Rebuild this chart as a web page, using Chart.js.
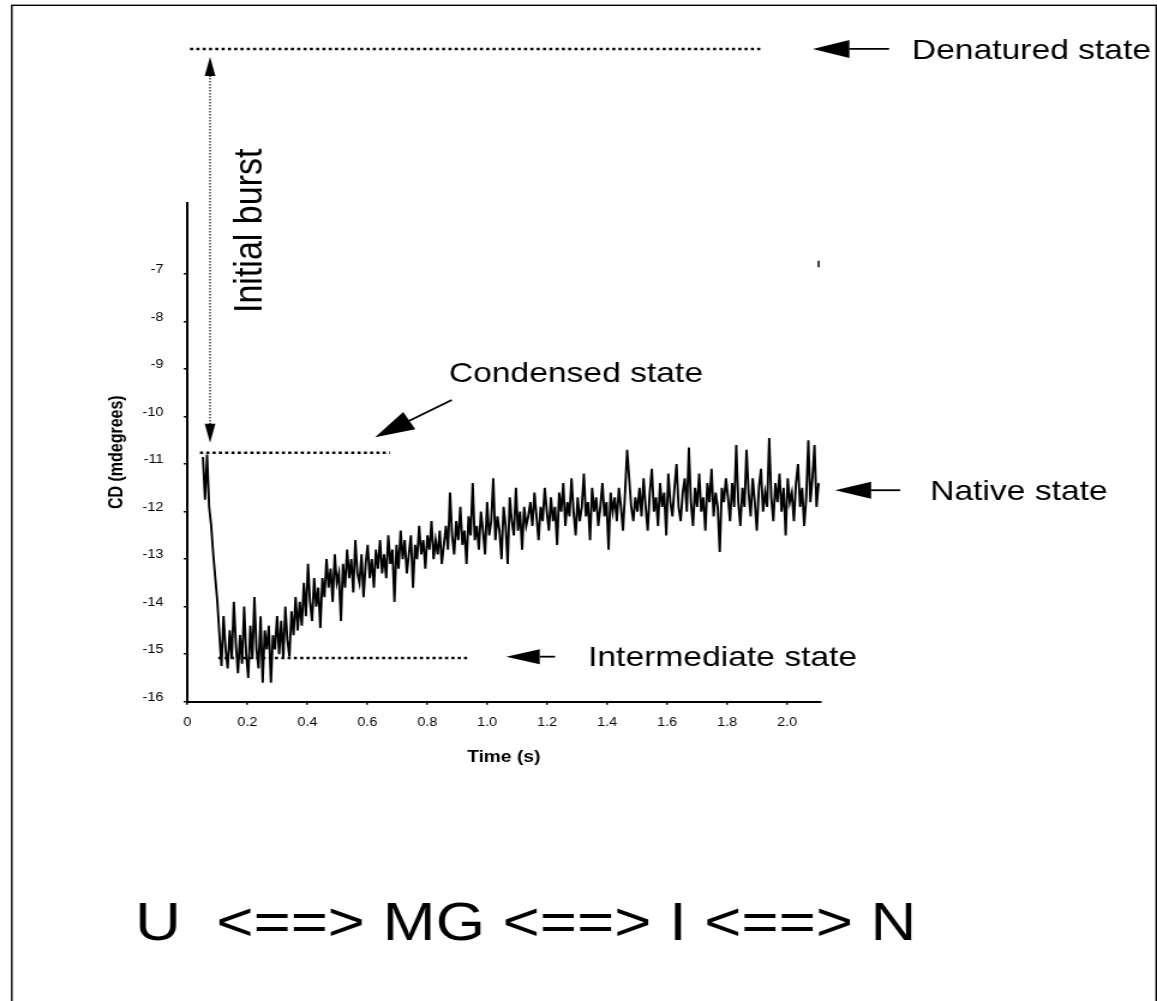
<!DOCTYPE html>
<html>
<head>
  <title>CD refolding kinetics</title>
  <meta charset="utf-8" />
  <style>
    html, body { margin: 0; padding: 0; background: #fff; overflow: hidden; }
    #wrap { width: 1157px; height: 1001px; overflow: hidden; }
    /* the original figure is stretched horizontally by about 1.2 */
    #cdChart { display: block; transform: scaleX(1.2002); transform-origin: 0 0; }
  </style>
</head>
<body>
<div id="wrap"><canvas id="cdChart" width="964" height="1001"></canvas></div>

<script src="https://cdn.jsdelivr.net/npm/chart.js"></script>
<script>
  // sampled trace: first and last sample time (s), values in mdegrees
  const timeStart = 0.052;
  const timeEnd = 2.105;
  const cdValues = [
    -10.85, -11.75, -10.8, -11.9, -12.3, -12.9, -13.4, -13.9, -14.6,
    -15.25, -14.2, -14.9, -15.3, -14.5, -15.1, -13.9, -14.8, -15.4, -14.6,
    -15.2, -14.0, -15.0, -15.5, -14.4, -15.1, -13.8, -14.9, -15.3, -14.2,
    -15.6, -14.5, -14.9,
    -14.4, -15.6, -14.6, -14.9, -14.2, -15.0, -14.3, -15.1, -14.0, -14.7,
    -15.05, -14.1, -14.6, -13.8, -14.5, -13.9, -14.4, -13.5, -14.2, -13.1,
    -13.9, -14.3, -13.4, -14.0, -13.6,
    -14.45, -13.4, -13.8, -13.0, -13.6, -13.2, -13.9, -12.9, -13.5, -13.3,
    -14.3, -13.1, -13.6, -12.8, -13.4, -13.0, -13.7, -12.6, -13.3, -13.5,
    -12.9, -13.8, -13.1, -12.7, -13.4, -13.0, -13.6, -12.8, -13.2,
    -12.6, -13.3, -12.9, -13.4, -12.5, -13.1, -12.8, -13.9, -12.7, -13.2,
    -12.4, -13.0, -12.6, -13.3, -12.9, -12.5, -13.6, -12.7, -13.0, -12.3,
    -12.9, -12.6, -13.2, -12.5, -12.8, -12.2, -13.0, -12.6, -12.9, -12.4,
    -13.1, -12.7,
    -12.3, -12.8, -11.6, -12.5, -12.9, -12.2, -12.6, -11.9, -12.7, -12.4,
    -13.1, -12.1, -12.5, -11.4, -12.6, -12.3, -12.8, -12.0, -12.4, -12.9,
    -11.8, -12.5, -12.2, -11.3, -12.6, -12.1, -12.4, -13.0, -11.9, -12.3,
    -13.1, -11.7, -12.2, -12.5, -11.5, -12.4, -12.0, -12.8, -11.9, -12.3,
    -12.1,
    -11.8, -12.3, -11.6, -12.1, -12.6, -11.9, -12.2, -11.5, -12.0, -12.4,
    -11.7, -12.2, -11.9, -12.7, -11.6, -12.0, -11.4, -12.3, -11.8, -12.1,
    -11.3, -12.0, -12.5, -11.7, -12.2, -11.9, -11.2, -12.1, -11.8, -12.6,
    -11.5, -12.0, -11.7, -12.3, -11.9, -11.4, -12.1, -11.8, -12.8, -11.6,
    -12.0, -11.7, -12.2, -11.5, -11.9, -12.4, -11.6, -10.7, -11.3, -11.9,
    -12.2, -11.7, -12.0,
    -11.5, -12.1, -11.3, -11.9, -12.4, -11.6, -11.1, -12.0, -11.7, -12.3,
    -11.4, -11.9, -11.6, -12.5, -11.2, -11.8, -12.1, -11.5, -11.0, -11.9,
    -12.2, -11.6, -11.3, -12.0, -10.65, -11.8, -12.3, -11.5, -11.9, -11.2,
    -12.0, -11.7, -12.4, -11.4, -11.8, -11.1, -12.1, -11.6, -11.9, -12.85,
    -11.5, -11.8, -11.3,
    -11.7, -12.2, -11.4, -11.9, -10.6, -11.8, -12.3, -11.5, -11.9, -10.7,
    -11.6, -12.1, -11.3, -11.8, -12.4, -11.5, -11.1, -12.0, -11.6, -11.9,
    -10.45, -11.7, -12.2, -11.4, -11.8, -11.2, -12.0, -11.5, -12.5, -11.3,
    -11.8, -11.6, -12.2, -11.4, -11.0, -11.9, -11.5, -12.3, -11.7, -10.5,
    -11.8, -11.3, -10.6, -11.9, -11.4
  ];

  // stray mark at the right end of the plot
  const strayMark = [-6.72, -6.86];

  const xTickValues = [0, 0.2, 0.4, 0.6, 0.8, 1.0, 1.2, 1.4, 1.6, 1.8, 2.0];
  const xTickLabels = ['0', '0.2', '0.4', '0.6', '0.8', '1.0', '1.2', '1.4', '1.6', '1.8', '2.0'];
  const yTickValues = [-16, -15, -14, -13, -12, -11, -10, -9, -8, -7];
  const yTickLabels = ['-16', '-15', '-14', '-13', '-12', '-11', '-10', '-9', '-8', '-7'];

  // CD levels of the folding states
  const stateNames = ['Denatured state', 'Condensed state', 'Intermediate state', 'Native state'];
  const stateLevels = [-2.265, -10.76, -15.08, -11.55];

  const FONT = '"Liberation Sans", Arial, Helvetica, sans-serif';

  const step = (timeEnd - timeStart) / (cdValues.length - 1);
  const tracePoints = cdValues.map((v, i) => ({ x: timeStart + i * step, y: v }));
  const strayPoints = strayMark.map(v => ({ x: timeEnd, y: v }));

  function drawArrow(ctx, fromX, fromY, tipX, tipY, headLen, headHalf) {
    const a = Math.atan2(tipY - fromY, tipX - fromX);
    const bx = tipX - headLen * Math.cos(a);
    const by = tipY - headLen * Math.sin(a);
    ctx.beginPath();
    ctx.moveTo(fromX, fromY);
    ctx.lineTo(bx, by);
    ctx.stroke();
    ctx.beginPath();
    ctx.moveTo(tipX, tipY);
    ctx.lineTo(bx + headHalf * Math.sin(a), by - headHalf * Math.cos(a));
    ctx.lineTo(bx - headHalf * Math.sin(a), by + headHalf * Math.cos(a));
    ctx.closePath();
    ctx.fill();
  }

  function hLine(ctx, x1, x2, py) {
    ctx.beginPath();
    ctx.moveTo(x1, py);
    ctx.lineTo(x2, py);
    ctx.stroke();
  }

  const annotations = {
    id: 'annotations',
    afterDraw(chart) {
      const { ctx, scales: { x, y } } = chart;
      const lv = stateLevels.map(v => y.getPixelForValue(v));
      ctx.save();
      ctx.fillStyle = '#000';
      ctx.strokeStyle = '#000';

      // frame round the figure
      ctx.lineWidth = 1.4;
      ctx.strokeRect(9.8, 5.3, 953.6, 1020);

      // dotted level lines
      ctx.lineWidth = 2.4;
      ctx.setLineDash([2.6, 2.65]);
      hLine(ctx, x.getPixelForValue(0.009), x.getPixelForValue(1.915), lv[0]);
      hLine(ctx, x.getPixelForValue(0.042), x.getPixelForValue(0.675), lv[1]);
      hLine(ctx, x.getPixelForValue(0.103), x.getPixelForValue(0.942), lv[2]);

      // initial burst double arrow
      ctx.lineWidth = 1.1;
      ctx.setLineDash([1.5, 1.5]);
      ctx.beginPath();
      ctx.moveTo(175, lv[0] + 26);
      ctx.lineTo(175, lv[1] - 29);
      ctx.stroke();
      ctx.setLineDash([]);
      drawArrow(ctx, 175, lv[0] + 28, 175, lv[0] + 8, 19, 4.5);
      drawArrow(ctx, 175, lv[1] - 30, 175, lv[1] - 10, 19, 4.5);

      // pointer arrows
      ctx.lineWidth = 1.8;
      drawArrow(ctx, 740.8, lv[0], 677.2, lv[0], 30.5, 9);
      drawArrow(ctx, 376.4, 400, 312.5, 437.3, 33, 10);
      drawArrow(ctx, 462.5, lv[2] - 1.3, 421.7, lv[2] - 1.3, 28, 7.5);
      drawArrow(ctx, 750, lv[3], 695.8, lv[3], 30, 8.5);

      // labels
      ctx.font = '28px ' + FONT;
      ctx.textAlign = 'left';
      ctx.textBaseline = 'alphabetic';
      ctx.fillText(stateNames[0], 759.8, lv[0] + 10);
      ctx.fillText(stateNames[1], 374, 382);
      ctx.fillText(stateNames[2], 490, lv[2] + 8);
      ctx.fillText(stateNames[3], 775, lv[3] + 10);

      ctx.save();
      ctx.translate(217.5, 313);
      ctx.rotate(-Math.PI / 2);
      ctx.font = '34px ' + FONT;
      ctx.fillText('Initial burst', 0, 0);
      ctx.restore();

      ctx.font = '53px ' + FONT;
      ctx.fillText('U  <==> MG <==> I <==> N', 112.5, 940);
      ctx.restore();
    }
  };

  new Chart(document.getElementById('cdChart'), {
    type: 'line',
    data: {
      datasets: [{
        label: 'CD',
        data: tracePoints,
        borderColor: '#000',
        borderWidth: 1.9,
        pointRadius: 0,
        tension: 0,
        fill: false
      },
      {
        label: 'mark',
        data: strayPoints,
        borderColor: '#000',
        borderWidth: 1.5,
        pointRadius: 0,
        fill: false
      }]
    },
    options: {
      responsive: false,
      devicePixelRatio: 1,
      animation: false,
      events: [],
      layout: {
        padding: { left: 76.1, right: 280.7, top: 202.7, bottom: 219.3 }
      },
      plugins: {
        legend: { display: false },
        tooltip: { enabled: false }
      },
      scales: {
        x: {
          type: 'linear',
          min: 0,
          max: 2.11,
          afterFit: s => { s.height = 80; },
          afterBuildTicks: s => { s.ticks = xTickValues.map(v => ({ value: v })); },
          ticks: {
            autoSkip: false,
            maxRotation: 0,
            padding: 11,
            color: '#000',
            font: { family: FONT, size: 12 },
            callback: (v, i) => xTickLabels[i]
          },
          grid: { drawOnChartArea: false, drawTicks: true, tickLength: 3, color: '#000', lineWidth: 1.5 },
          border: { display: true, color: '#000', width: 2 },
          title: {
            display: true,
            text: 'Time (s)',
            color: '#000',
            font: { family: FONT, size: 16, weight: 'bold' },
            padding: { top: 0, bottom: 14.4 }
          }
        },
        y: {
          type: 'linear',
          min: -16,
          max: -5.5,
          afterFit: s => { s.width = 80; },
          afterBuildTicks: s => { s.ticks = yTickValues.map(v => ({ value: v })); },
          ticks: {
            autoSkip: false,
            padding: 17,
            labelOffset: -4,
            color: '#000',
            font: { family: FONT, size: 12 },
            callback: (v, i) => yTickLabels[i]
          },
          grid: { drawOnChartArea: false, drawTicks: true, tickLength: 3, color: '#000', lineWidth: 1.5 },
          border: { display: true, color: '#000', width: 2 },
          title: {
            display: true,
            text: 'CD (mdegrees)',
            color: '#000',
            font: { family: FONT, size: 16, weight: 'bold' },
            padding: { top: 11.8, bottom: 0 }
          }
        }
      }
    },
    plugins: [annotations]
  });
</script>
</body>
</html>
